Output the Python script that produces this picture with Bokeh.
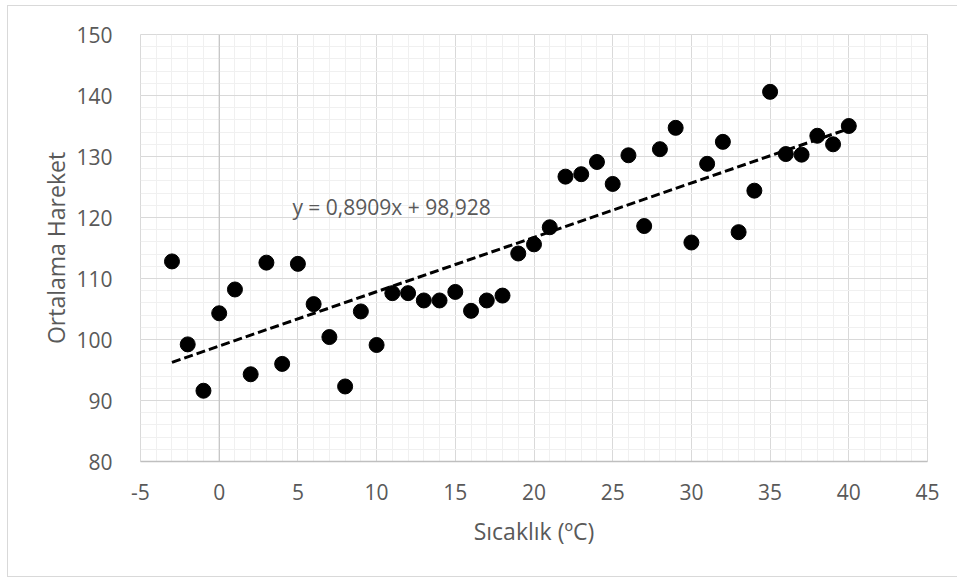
from bokeh.plotting import figure
from bokeh.models import Range1d, SingleIntervalTicker, Span, Label, ColumnDataSource
from bokeh.embed import file_html
from bokeh.resources import INLINE

# ---- data ----
temperature = [-3, -2, -1, 0, 1, 2, 3, 4, 5, 6, 7, 8, 9, 10, 11, 12, 13, 14, 15, 16,
               17, 18, 19, 20, 21, 22, 23, 24, 25, 26, 27, 28, 29, 30, 31, 32, 33, 34,
               35, 36, 37, 38, 39, 40]
movement = [112.8, 99.2, 91.6, 104.3, 108.2, 94.3, 112.6, 96.0, 112.4, 105.8, 100.4, 92.3,
            104.6, 99.1, 107.6, 107.6, 106.4, 106.4, 107.8, 104.7, 106.4, 107.2, 114.1,
            115.6, 118.4, 126.7, 127.1, 129.1, 125.5, 130.2, 118.6, 131.2, 134.7, 115.9,
            128.8, 132.4, 117.6, 124.4, 140.6, 130.4, 130.3, 133.4, 132.0, 135.0]
trend_slope = 0.8909
trend_intercept = 98.928
equation_text = "y = 0,8909x + 98,928"
x_title = "Sıcaklık (ºC)"
y_title = "Ortalama Hareket"
x_tick_labels = {-5: "-5", 0: "0", 5: "5", 10: "10", 15: "15", 20: "20",
                 25: "25", 30: "30", 35: "35", 40: "40", 45: "45"}

FONT = "Open Sans"
GRAY = "#595959"

p = figure(width=950, height=572,
           x_range=Range1d(-5, 45), y_range=Range1d(80, 150),
           output_backend="svg", toolbar_location=None,
           min_border_left=132, min_border_right=31,
           min_border_top=28, min_border_bottom=117)
p.styles = {"border-left": "1px solid #d9d9d9", "border-top": "1px solid #d9d9d9",
            "border-bottom": "1px solid #d9d9d9", "margin-left": "7px",
            "margin-top": "5px"}

p.background_fill_color = "white"
p.border_fill_color = "white"
p.outline_line_color = "#d9d9d9"

p.xaxis.ticker = SingleIntervalTicker(interval=5, num_minor_ticks=5)
p.yaxis.ticker = SingleIntervalTicker(interval=10, num_minor_ticks=5)
p.xaxis.major_label_overrides = x_tick_labels

for g in (p.xgrid, p.ygrid):
    g.grid_line_color = "#d9d9d9"
    g.grid_line_width = 1
    g.minor_grid_line_color = "#f0f0f0"
    g.minor_grid_line_width = 1

for ax in (p.xaxis, p.yaxis):
    ax.major_tick_line_color = None
    ax.minor_tick_line_color = None
    ax.major_label_text_font = FONT
    ax.major_label_text_font_size = "21px"
    ax.major_label_text_color = GRAY
    ax.axis_label_text_font = FONT
    ax.axis_label_text_font_size = "23px"
    ax.axis_label_text_color = GRAY
    ax.axis_label_text_font_style = "normal"

p.xaxis.axis_line_color = "#bfbfbf"
p.xaxis.axis_line_width = 1.5
p.yaxis.axis_line_color = None
p.xaxis.major_label_standoff = 16
p.yaxis.major_label_standoff = 22
p.xaxis.axis_label_standoff = 12
p.yaxis.axis_label_standoff = 1
p.xaxis.axis_label = x_title
p.yaxis.axis_label = y_title

# vertical axis line crossing at x = 0
p.add_layout(Span(location=0, dimension="height", line_color="#bfbfbf",
                  line_width=1, level="underlay"))

# linear trend line
xl = [min(temperature), max(temperature)]
yl = [trend_slope * v + trend_intercept for v in xl]
p.line(xl, yl, line_color="black", line_width=3, line_dash="9 4")

src = ColumnDataSource(dict(x=temperature, y=movement))
p.scatter("x", "y", source=src, size=15, fill_color="black", line_color="black")

p.add_layout(Label(x=4.65, y=121.8, text=equation_text, text_font=FONT,
                   text_font_size="21px", text_color=GRAY, text_baseline="middle",
                   text_align="left"))

open("out.html", "w").write(file_html(p, INLINE))
